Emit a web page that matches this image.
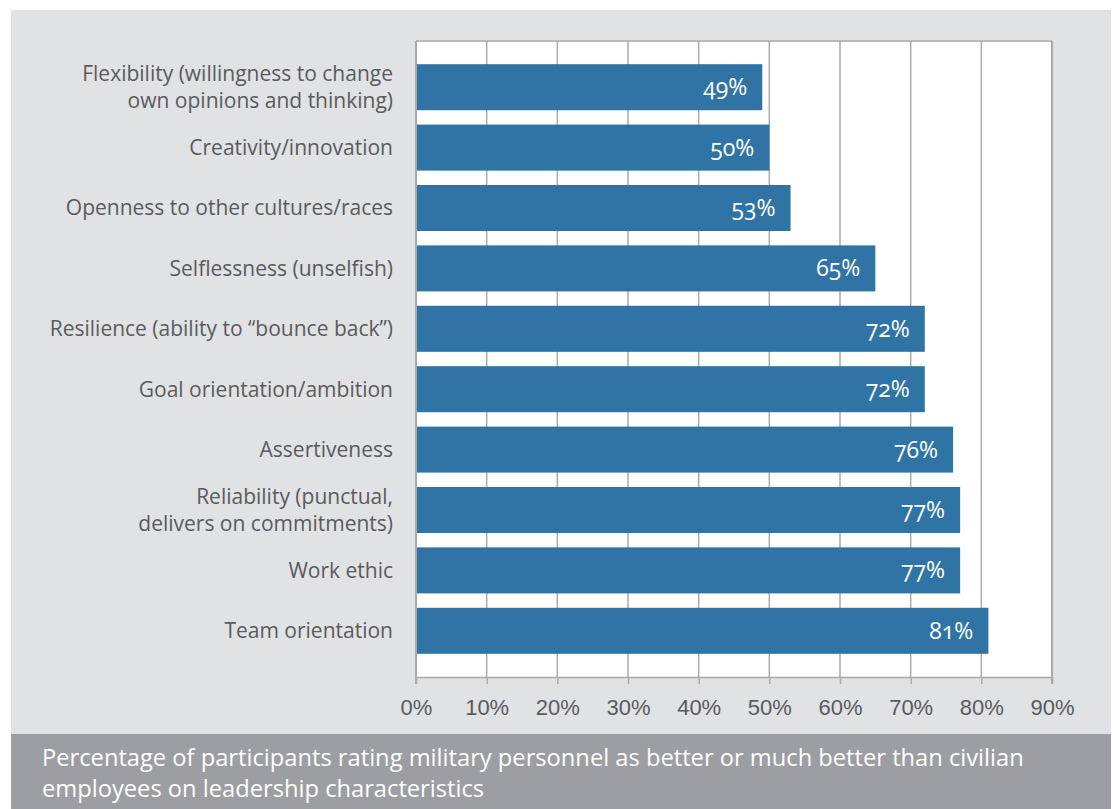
<!DOCTYPE html>
<html>
<head>
<meta charset="utf-8">
<script src="https://cdn.jsdelivr.net/npm/d3@7"></script>
<style>
	body { margin: 0; background: #fff; }
	svg { display: block; font-family: 'Open Sans', sans-serif; font-variant-numeric: oldstyle-nums; font-feature-settings: 'onum' 1; }
</style>
</head>
<body>
<div id="chart"></div>
<script>
// traits, top to bottom
const traits = [
	'Flexibility (willingness to change|own opinions and thinking)',
	'Creativity/innovation',
	'Openness to other cultures/races',
	'Selflessness (unselfish)',
	'Resilience (ability to \u201cbounce back\u201d)',
	'Goal orientation/ambition',
	'Assertiveness',
	'Reliability (punctual,|delivers on commitments)',
	'Work ethic',
	'Team orientation',
];
const shares = [49, 50, 53, 65, 72, 72, 76, 77, 77, 81];
const ticks = [0, 10, 20, 30, 40, 50, 60, 70, 80, 90];
const caption = [
	'Percentage of participants rating military personnel as better or much better than civilian',
	'employees on leadership characteristics',
];

const width = 1116;
const height = 809;
const marginLeft = 416;
const marginRight = 64;
const marginTop = 41;
const plotBottom = 677;
const grid = '#a9a9ab';

const svg = d3
	.select('#chart')
	.append('svg')
	.attr('width', width)
	.attr('height', height);

// grey panel + caption band
svg.append('rect').attr('x', 11).attr('y', 10).attr('width', 1100).attr('height', 724).attr('fill', '#e1e2e4');
svg.append('rect').attr('x', 11).attr('y', 734).attr('width', 1100).attr('height', height - 734).attr('fill', '#9d9ea1');

const x = d3
	.scaleLinear()
	.domain([0, 90])
	.range([marginLeft, width - marginRight]);

const y = d3
	.scaleBand()
	.domain(traits)
	.range([marginTop, plotBottom])
	.paddingInner(0.238)
	.paddingOuter(0.384);

// white plot area
svg
	.append('rect')
	.attr('x', x(0))
	.attr('y', marginTop)
	.attr('width', x(90) - x(0))
	.attr('height', plotBottom - marginTop)
	.attr('fill', '#fff');

// vertical gridlines
svg
	.append('g')
	.selectAll('line')
	.data(ticks.slice(1))
	.join('line')
	.attr('x1', (d) => x(d))
	.attr('x2', (d) => x(d))
	.attr('y1', marginTop)
	.attr('y2', plotBottom)
	.attr('stroke', grid)
	.attr('stroke-width', 1.5);

// top border
svg
	.append('line')
	.attr('x1', x(0))
	.attr('x2', x(90))
	.attr('y1', marginTop)
	.attr('y2', marginTop)
	.attr('stroke', grid)
	.attr('stroke-width', 1.5);

// bars
svg
	.append('g')
	.selectAll('rect')
	.data(shares)
	.join('rect')
	.attr('x', x(0))
	.attr('y', (d, i) => y(traits[i]))
	.attr('width', (d) => x(d) - x(0))
	.attr('height', y.bandwidth())
	.attr('fill', '#2f74a5');

// value labels
svg
	.append('g')
	.selectAll('text')
	.data(shares)
	.join('text')
	.attr('x', (d) => x(d) - 15)
	.attr('y', (d, i) => y(traits[i]) + y.bandwidth() / 2)
	.attr('dy', '0.35em')
	.attr('text-anchor', 'end')
	.attr('fill', '#fff')
	.style('font-size', '23px')
	.text((d) => d + '%');

// bottom axis
const axis = svg
	.append('g')
	.attr('transform', `translate(0,${plotBottom})`)
	.call(
		d3
			.axisBottom(x)
			.tickValues(ticks)
			.tickFormat((d) => d + '%')
			.tickSize(7)
			.tickSizeOuter(0)
	);
axis.select('.domain').attr('stroke', grid).attr('stroke-width', 1.5);
axis.selectAll('.tick line').attr('stroke', grid).attr('stroke-width', 1.5);
axis
	.selectAll('.tick text')
	.attr('y', 22)
	.attr('fill', '#5a5b5d')
	.style('font-size', '22px');

// left and right border
svg
	.append('g')
	.selectAll('line')
	.data([0, 90])
	.join('line')
	.attr('x1', (d) => x(d))
	.attr('x2', (d) => x(d))
	.attr('y1', marginTop)
	.attr('y2', plotBottom + 7)
	.attr('stroke', grid)
	.attr('stroke-width', 2);

// category labels (wrap on '|')
const labels = svg
	.append('g')
	.selectAll('text')
	.data(traits)
	.join('text')
	.attr('text-anchor', 'end')
	.attr('fill', '#5a5b5d')
	.style('font-size', '21px')
	.attr('transform', (d) => `translate(393,${y(d) + y.bandwidth() / 2})`);

labels
	.selectAll('tspan')
	.data((d) => {
		const parts = d.split('|');
		return parts.map((p, i) => ({ p, dy: i === 0 ? (0.35 - (parts.length - 1) * 0.64) + 'em' : '1.27em' }));
	})
	.join('tspan')
	.attr('x', 0)
	.attr('dy', (d) => d.dy)
	.text((d) => d.p);

// caption
svg
	.append('g')
	.selectAll('text')
	.data(caption)
	.join('text')
	.attr('x', 42)
	.attr('y', (d, i) => 766 + i * 31)
	.attr('fill', '#fff')
	.style('font-size', '23.7px')
	.text((d) => d);
</script>
</body>
</html>
